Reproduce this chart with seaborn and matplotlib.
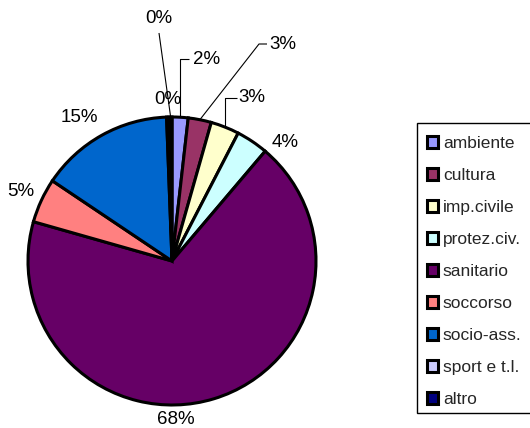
import numpy as np
import matplotlib
matplotlib.use("Agg")
import matplotlib.pyplot as plt
from matplotlib.patches import Rectangle
import seaborn as sns

sns.set_style("white")
plt.rcParams["font.family"] = ["Liberation Sans", "DejaVu Sans"]

# Share of volunteer organisations by sector (%)
sectors = ["ambiente", "cultura", "imp.civile", "protez.civ.", "sanitario",
           "soccorso", "socio-ass.", "sport e t.l.", "altro"]
shares = [1.8, 2.6, 3.2, 3.6, 68.2, 5.0, 15.0, 0.3, 0.3]
palette = sns.color_palette(["#9999FF", "#993366", "#FFFFCC", "#CCFFFF", "#660066",
                             "#FF8080", "#0066CC", "#CCCCFF", "#000080"])

W, H = 530, 428
CX, CY, R = 172, 261, 144          # pie centre / radius in pixels


def to_data(px, py):
    return (px - CX) / R, (CY - py) / R


# label anchors (pixel, text baseline centre)
label_px = {
    "ambiente": (207, 64), "cultura": (283, 49), "imp.civile": (252, 102),
    "protez.civ.": (285, 147), "sanitario": (176, 424), "soccorso": (21, 196),
    "socio-ass.": (79, 122), "sport e t.l.": (168, 104), "altro": (159, 23),
}
# leader line bends (pixel) following the wedge edge point
leader_px = {
    "ambiente": [("wx", 59), (189, 59)],
    "cultura": [(259, 44), (267, 44)],
    "imp.civile": [("wx", 98), (237, 98)],
    "altro": [(159, 33)],
}

fig = plt.figure(figsize=(W / 100, H / 100), dpi=100)
ax = fig.add_axes([0, 0, 1, 1])

wedges, _ = ax.pie(shares, colors=palette, startangle=90, counterclock=False,
                   radius=1, center=(0, 0),
                   wedgeprops=dict(edgecolor="black", linewidth=2.2))

total = float(np.sum(shares))
for w, name, v in zip(wedges, sectors, shares):
    mid = np.deg2rad((w.theta1 + w.theta2) / 2)
    ex, ey = np.cos(mid), np.sin(mid)
    tx, ty = to_data(*label_px[name])
    ax.text(tx, ty, f"{round(v / total * 100):.0f}%", ha="center", va="baseline",
            fontsize=13.5, color="black")
    if name in leader_px:
        xs, ys = [ex], [ey]
        for bx, by in leader_px[name]:
            dx, dy = to_data(0 if bx == "wx" else bx, by)
            xs.append(ex if bx == "wx" else dx)
            ys.append(dy)
        ax.plot(xs, ys, color="black", linewidth=0.8, solid_capstyle="butt")

ax.set_aspect("auto")
ax.set_xlim(-CX / R, (W - CX) / R)
ax.set_ylim((CY - H) / R, CY / R)
ax.axis("off")

# legend frame (runs off the right edge)
fig.add_artist(Rectangle((417 / W, 1 - 413 / H), (560 - 417) / W, (413 - 123) / H,
                         transform=fig.transFigure, facecolor="white",
                         edgecolor="black", linewidth=1.0, zorder=1))

leg = fig.legend(wedges, sectors, loc="upper left",
                 bbox_to_anchor=(427 / W, 1 - 136 / H), borderaxespad=0,
                 frameon=False, fontsize=12.5, handlelength=0.62, handleheight=0.62,
                 handletextpad=0.3, labelspacing=0.98, borderpad=0.0)
leg.set_zorder(2)
for h in leg.legend_handles:
    h.set_linewidth(2.2)
    h.set_edgecolor("black")

fig.savefig("out.png", dpi=100, facecolor="white")
